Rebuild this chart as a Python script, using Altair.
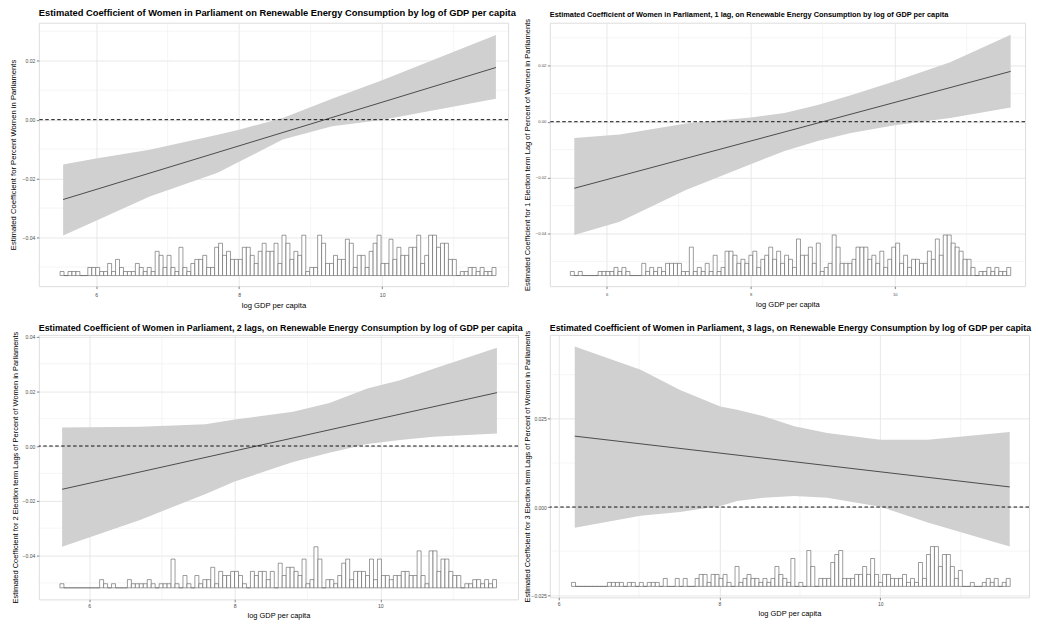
import altair as alt
import pandas as pd

FONT = "Liberation Sans"

# ---------------- data ----------------
x_major = [6, 8, 10]
x_minor = [7, 9, 11]
xtitle = "log GDP per capita"

# Panel 1
p1_title = "Estimated Coefficient of Women in Parliament on Renewable Energy Consumption by log of GDP per capita"
p1_ytitle = "Estimated Coefficient for Percent Women in Parliaments"
p1_band_x = [5.54, 6.0, 6.75, 7.7, 8.0, 8.61, 9.3, 9.99, 11.59]
p1_band_hi = [-0.0152, -0.0132, -0.0102, -0.0051, -0.0034, 0.0006, 0.0071, 0.0133, 0.0287]
p1_band_lo = [-0.0393, -0.0343, -0.0261, -0.0180, -0.0143, -0.0067, -0.0022, -0.0001, 0.0071]
p1_line_x = [5.54, 11.59]
p1_line_y = [-0.0271, 0.0177]
p1_hist_start = 5.497
p1_hist_width = 0.0554
p1_hist_counts = [1, 0, 1, 1, 1, 0, 0, 2, 2, 2, 1,
                  1, 3, 1, 4, 2, 1, 1, 1, 3, 2, 1, 2, 1,
                  6, 5, 2, 5, 2, 1, 7, 2, 1, 3, 4, 4, 5, 2, 2, 7, 8, 5, 6, 4, 4, 4, 7, 7, 5, 3, 6, 8, 6, 6, 8, 3,
                  10, 8, 4, 6, 5, 10, 1, 2, 2, 10, 8, 3, 3, 5, 4, 4, 9, 8, 2, 5, 5, 2, 6, 8, 10, 3, 3, 9, 4, 7,
                  5, 5, 7, 7, 10, 3, 5, 10, 10, 7, 8, 8, 4, 4,
                  0, 1, 1, 2, 2, 1, 2, 1, 1, 2]
p1_y_major = [-0.04, -0.02, 0.0, 0.02]
p1_y_minor = [-0.05, -0.03, -0.01, 0.01, 0.03]

# Panel 2
p2_title = "Estimated Coefficient of Women in Parliament, 1 lag, on Renewable Energy Consumption by log of GDP per capita"
p2_ytitle = "Estimated Coefficient for 1 Election term Lag of Percent of Women in Parliaments"
p2_band_x = [5.55, 6.18, 7.1, 8.0, 8.47, 8.93, 9.39, 10.0, 10.77, 11.61]
p2_band_hi = [-0.0058, -0.0046, -0.0006, 0.0015, 0.0031, 0.0060, 0.0095, 0.0145, 0.0213, 0.0311]
p2_band_lo = [-0.0405, -0.0358, -0.0244, -0.0152, -0.0105, -0.0069, -0.0040, -0.0013, 0.0013, 0.0051]
p2_line_x = [5.55, 11.61]
p2_line_y = [-0.0238, 0.0180]
p2_hist_start = 5.495
p2_hist_width = 0.0551
p2_hist_counts = [1, 0, 1, 0, 0, 0, 0, 1, 1, 1, 1, 2, 1, 2, 1, 0, 0, 0, 3, 1, 2, 1, 2, 1, 3, 3, 3, 3, 1, 1,
                  7, 1, 2, 1, 3, 1, 5, 1, 2, 6, 6, 5, 3, 4, 3, 5, 6, 2, 4, 5, 7, 4, 6, 3, 5, 4, 2,
                  9, 5, 5, 7, 3, 8, 1, 2, 3,
                  10, 7, 3, 3, 3, 4, 7, 7, 7, 4, 5, 3, 6, 2, 4, 7, 8, 3, 5, 2, 4, 4, 3, 3, 6,
                  4, 9, 5, 10, 10, 8, 7, 6, 4, 4, 2,
                  0,
                  1, 1, 2, 1, 2, 1, 1, 2]
p2_y_major = [-0.04, -0.02, 0.0, 0.02]
p2_y_minor = [-0.05, -0.03, -0.01, 0.01, 0.03]

# Panel 3
p3_title = "Estimated Coefficient of Women in Parliament, 2 lags, on Renewable Energy Consumption by log of GDP per capita"
p3_ytitle = "Estimated Coefficient for 2 Election term Lags of Percent of Women in Parliaments"
p3_band_x = [5.63, 6.7, 7.6, 8.0, 8.8, 9.3, 9.82, 10.27, 10.73, 11.6]
p3_band_hi = [0.0068, 0.0070, 0.0080, 0.0097, 0.0125, 0.0157, 0.0210, 0.0240, 0.0282, 0.0359]
p3_band_lo = [-0.0368, -0.0270, -0.0175, -0.0130, -0.0058, -0.0025, 0.0007, 0.0022, 0.0034, 0.0046]
p3_line_x = [5.63, 11.6]
p3_line_y = [-0.0158, 0.0195]
p3_hist_start = 5.60
p3_hist_width = 0.0545
p3_hist_counts = [1, 0, 0, 0, 0, 0, 0, 0, 0, 0,
                  2, 1, 0, 1, 0, 0, 0, 2, 1, 1, 1, 1, 2, 1, 0, 1, 1, 1,
                  7,
                  1, 0, 3, 1, 0, 3, 1, 2, 2, 5, 1, 4, 3, 3, 4, 4, 3, 1, 0, 4, 3, 4, 4, 2, 4, 0, 6, 3, 5, 5, 4, 3, 7, 1, 2,
                  10, 7, 0, 2, 2, 1, 3, 6, 7, 2, 4, 4, 4, 3, 7, 2, 7, 3, 3, 2, 3, 3, 4, 4, 3, 3, 9, 3, 1, 9,
                  9, 4, 7, 7, 4, 3, 3, 0, 1, 1, 2, 2, 1, 2, 1, 2]
p3_y_major = [-0.04, -0.02, 0.0, 0.02, 0.04]
p3_y_minor = [-0.05, -0.03, -0.01, 0.01, 0.03]

# Panel 4
p4_title = "Estimated Coefficient of Women in Parliament, 3 lags, on Renewable Energy Consumption by log of GDP per capita"
p4_ytitle = "Estimated Coefficient for 3 Election term Lags of Percent of Women in Parliaments"
p4_band_x = [6.20, 7.02, 7.51, 8.01, 8.22, 8.55, 8.93, 9.34, 10.0, 10.59, 11.61]
p4_band_hi = [0.0455, 0.0389, 0.0332, 0.0285, 0.0276, 0.0257, 0.0229, 0.0210, 0.0191, 0.0191, 0.0213]
p4_band_lo = [-0.0059, -0.0025, -0.0014, 0.0003, 0.0017, 0.0026, 0.0031, 0.0026, 0.0001, -0.0044, -0.0112]
p4_line_x = [6.20, 11.61]
p4_line_y = [0.0201, 0.0057]
p4_hist_start = 6.16
p4_hist_width = 0.0496
p4_hist_counts = [1, 0, 0, 0, 0, 0, 0, 0, 0,
                  1, 1, 1, 1, 0, 1, 1, 0, 1, 0, 1, 1, 1, 0, 2,
                  0, 0, 2, 0, 2, 0, 0,
                  2, 3, 3, 1, 3, 3, 2, 3, 1, 0, 5, 1, 2, 3, 2, 2, 1, 2, 1, 2, 5, 3, 2, 1, 7, 0, 1, 0, 9, 5,
                  0, 2, 2, 2, 6, 8, 9, 2, 2, 2, 3, 3, 5, 3, 7, 3, 1, 3, 3, 2, 2, 2, 3, 1, 2, 1, 6, 2, 8, 10,
                  10, 5, 8, 8, 5, 2, 4,
                  0, 0, 1, 0, 0, 1, 2, 1, 2, 0, 1, 2]
p4_y_major = [-0.025, 0.0, 0.025]
p4_y_minor = [-0.0125, 0.0125, 0.0375]

# ---------------- layout / style per panel ----------------
panels = [
    dict(title=p1_title, ytitle=p1_ytitle, bx=p1_band_x, bhi=p1_band_hi, blo=p1_band_lo,
         lx=p1_line_x, ly=p1_line_y, hs=p1_hist_start, hw=p1_hist_width, hc=p1_hist_counts,
         ymaj=p1_y_major, ymin=p1_y_minor, yfmt=".2f",
         xdom=[5.2, 11.76], ydom=[-0.0565, 0.0329], hbase=-0.0529, hunit=0.00137,
         w=472, h=265, tfs=9.4, toff=4, lfs=5.1, atfs=7.7, ytp=5, ylp=1.5, xlp=4, xtp=4),
    dict(title=p2_title, ytitle=p2_ytitle, bx=p2_band_x, bhi=p2_band_hi, blo=p2_band_lo,
         lx=p2_line_x, ly=p2_line_y, hs=p2_hist_start, hw=p2_hist_width, hc=p2_hist_counts,
         ymaj=p2_y_major, ymin=p2_y_minor, yfmt=".2f",
         xdom=[5.21, 11.81], ydom=[-0.0588, 0.0354], hbase=-0.0550, hunit=0.00145,
         w=478, h=265, tfs=7.4, toff=0, lfs=4.2, atfs=7.6, ytp=4, ylp=1.5, xlp=4, xtp=4),
    dict(title=p3_title, ytitle=p3_ytitle, bx=p3_band_x, bhi=p3_band_hi, blo=p3_band_lo,
         lx=p3_line_x, ly=p3_line_y, hs=p3_hist_start, hw=p3_hist_width, hc=p3_hist_counts,
         ymaj=p3_y_major, ymin=p3_y_minor, yfmt=".2f",
         xdom=[5.31, 11.89], ydom=[-0.056, 0.0406], hbase=-0.0518, hunit=0.0015,
         w=482, h=266, tfs=8.9, toff=-2, lfs=5.1, atfs=7.5, ytp=3, ylp=1.5, xlp=2, xtp=3),
    dict(title=p4_title, ytitle=p4_ytitle, bx=p4_band_x, bhi=p4_band_hi, blo=p4_band_lo,
         lx=p4_line_x, ly=p4_line_y, hs=p4_hist_start, hw=p4_hist_width, hc=p4_hist_counts,
         ymaj=p4_y_major, ymin=p4_y_minor, yfmt=".3f",
         xdom=[5.89, 11.85], ydom=[-0.0256, 0.0488], hbase=-0.0225, hunit=0.00113,
         w=482, h=264, tfs=8.85, toff=-3, lfs=5.0, atfs=7.5, ytp=0, ylp=1, xlp=2, xtp=3),
]

GRID = "#E2E2E2"
MINOR = "#EEEEEE"


def make_panel(c):
    band = pd.DataFrame({"x": c["bx"], "lo": c["blo"], "hi": c["bhi"]})
    line = pd.DataFrame({"x": c["lx"], "y": c["ly"]})
    n = len(c["hc"])
    hist = pd.DataFrame({
        "x0": [c["hs"] + i * c["hw"] for i in range(n)],
        "x1": [c["hs"] + (i + 1) * c["hw"] for i in range(n)],
        "count": c["hc"],
    })
    hist["yb"] = c["hbase"]
    hist["yt"] = c["hbase"] + hist["count"] * c["hunit"]

    xs = alt.Scale(domain=c["xdom"], nice=False, zero=False)
    ys = alt.Scale(domain=c["ydom"], nice=False, zero=False)

    xaxis = alt.Axis(values=x_major, format="d", title=xtitle,
                     labelFontSize=c["lfs"], labelColor="#4d4d4d", labelPadding=c["xlp"],
                     tickSize=2.5, tickColor="#333333", tickWidth=0.6,
                     titleFontSize=c["atfs"], titleFontWeight="normal", titleColor="#000000",
                     titlePadding=c["xtp"], grid=True, gridColor=GRID, gridWidth=0.8, domain=False)
    yaxis = alt.Axis(values=c["ymaj"], format=c["yfmt"], title=c["ytitle"],
                     labelFontSize=c["lfs"], labelColor="#4d4d4d", labelPadding=c["ylp"],
                     tickSize=2.5, tickColor="#333333", tickWidth=0.6,
                     titleFontSize=c["atfs"], titleFontWeight="normal", titleColor="#000000",
                     titlePadding=c["ytp"], grid=True, gridColor=GRID, gridWidth=0.8, domain=False)

    def X(f):
        return alt.X(f, scale=xs, axis=xaxis)

    def Y(f):
        return alt.Y(f, scale=ys, axis=yaxis)

    mx = alt.Chart(pd.DataFrame({"v": x_minor})).mark_rule(color=MINOR, strokeWidth=0.6).encode(
        x=X("v:Q"))
    my = alt.Chart(pd.DataFrame({"v": c["ymin"]})).mark_rule(color=MINOR, strokeWidth=0.6).encode(
        y=Y("v:Q"))
    band_ch = alt.Chart(band).mark_area(color="#D0D0D0", opacity=1).encode(
        x=X("x:Q"), y=Y("lo:Q"), y2="hi:Q")
    line_ch = alt.Chart(line).mark_line(color="#3c3c3c", strokeWidth=0.9).encode(
        x=X("x:Q"), y=Y("y:Q"))
    zero_ch = alt.Chart(pd.DataFrame({"z": [0.0]})).mark_rule(
        color="#111111", strokeDash=[3.5, 2.5], strokeWidth=1).encode(y=Y("z:Q"))
    hist_ch = alt.Chart(hist).mark_rect(fill="white", stroke="#5a5a5a", strokeWidth=0.6).encode(
        x=X("x0:Q"), x2="x1:Q", y=Y("yb:Q"), y2="yt:Q")

    return alt.layer(mx, my, band_ch, line_ch, zero_ch, hist_ch).properties(
        width=c["w"], height=c["h"],
        title=alt.TitleParams(c["title"], anchor="start", frame="group", fontSize=c["tfs"],
                              fontWeight="bold", font=FONT, color="#000000", offset=c["toff"]))


charts = [make_panel(c) for c in panels]
chart = alt.concat(*charts, columns=2, spacing=alt.RowColnumber(row=48, column=32),
                   bounds="flush", align="all").properties(
    padding={"left": 0, "top": -3, "right": 0, "bottom": 0}).configure_view(
    stroke="#7f7f7f", strokeWidth=0.9).configure_axis(labelFont=FONT, titleFont=FONT).configure(
    background="white")

chart.save("out.html", embed_options={"renderer": "svg", "actions": False})
